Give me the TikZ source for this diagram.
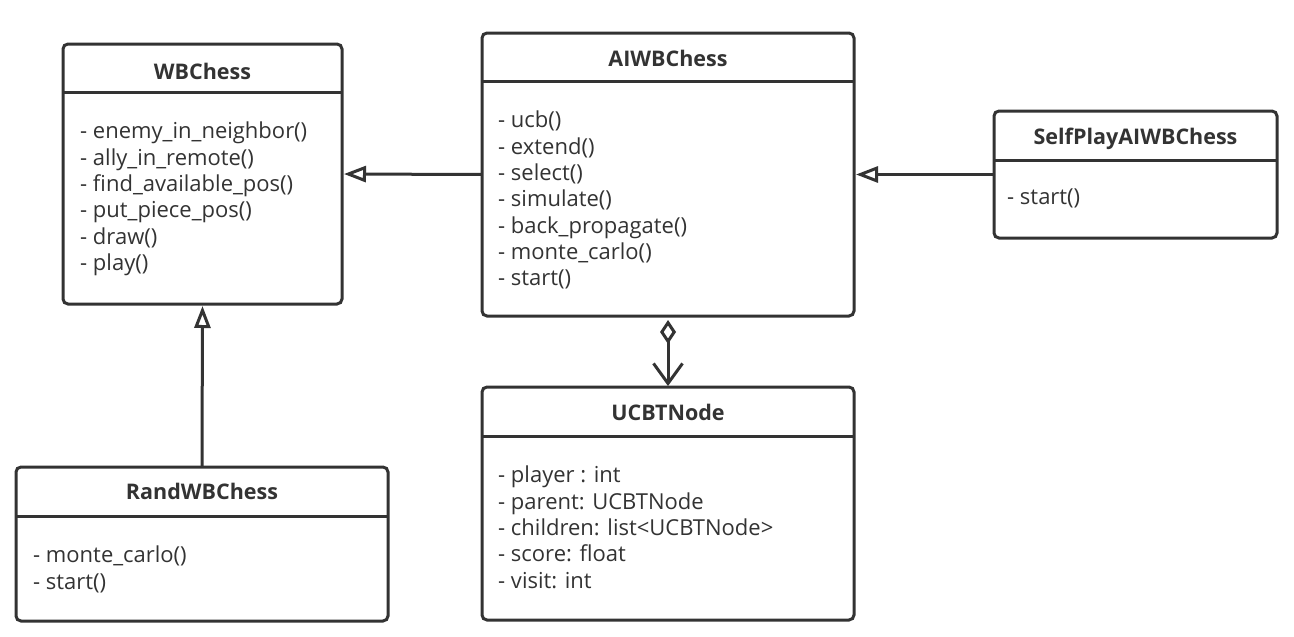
\documentclass[tikz,border=0pt]{standalone}
\usepackage{fontspec}
\setmainfont{Open Sans}
\usetikzlibrary{arrows.meta}
\definecolor{ink}{HTML}{333333}
\begin{document}
\begin{tikzpicture}[x=1pt,y=-1pt,
  classbox/.style={draw=ink, line width=3pt, rounded corners=5pt, fill=white, inner sep=0pt, outer sep=0pt},
  clstitle/.style={font=\fontsize{21.5}{25}\selectfont\bfseries, text=ink, text height=15.4pt, text depth=0pt, inner sep=0pt},
  members/.style={font=\fontsize{22}{26.3}\selectfont, text=ink, align=left, anchor=north west, inner sep=0pt},
  divider/.style={draw=ink, line width=3pt},
  link/.style={draw=ink, line width=3pt},
  inherit/.style={link, shorten >=2pt, -{Triangle[open, length=22pt, width=16pt, line width=3pt]}},
  aggr/.style={link, shorten <=4pt, shorten >=1pt, {Diamond[open, length=24pt, width=16pt, line width=3pt]}-{Straight Barb[length=20pt, width=29pt, line width=3pt]}}
]
\useasboundingbox[fill=white] (0,0) rectangle (1294,637);

% boxes
\node[classbox, minimum width=279pt, minimum height=260pt] (wb) at (202.5,174) {};
\node[classbox, minimum width=372pt, minimum height=283pt] (ai) at (668,174.5) {};
\node[classbox, minimum width=283pt, minimum height=127pt] (self) at (1135.5,174.5) {};
\node[classbox, minimum width=372pt, minimum height=154pt] (rand) at (202,544) {};
\node[classbox, minimum width=372pt, minimum height=233pt] (ucbt) at (668,503.5) {};

% dividers
\draw[divider] (wb.north west) ++(0,48) -- ++(279,0);
\draw[divider] (ai.north west) ++(0,48) -- ++(372,0);
\draw[divider] (self.north west) ++(0,49) -- ++(283,0);
\draw[divider] (rand.north west) ++(0,49) -- ++(372,0);
\draw[divider] (ucbt.north west) ++(0,49) -- ++(372,0);

% titles
\node[clstitle] (wbT) at (202.5,72) {WBChess};
\node[clstitle] (aiT) at (668,58.5) {AIWBChess};
\node[clstitle] (selfT) at (1135.5,137) {SelfPlayAIWBChess};
\node[clstitle] (randT) at (202,492) {RandWBChess};
\node[clstitle] (ucbtT) at (668,413) {UCBTNode};

% members
\node[members] (wbM) at (80,122) {- enemy\_in\_neighbor()\\- ally\_in\_remote()\\- find\_available\_pos()\\- put\_piece\_pos()\\- draw()\\- play()};
\node[members] (aiM) at (498,111) {- ucb()\\- extend()\\- select()\\- simulate()\\- back\_propagate()\\- monte\_carlo()\\- start()};
\node[members] (selfM) at (1007,189) {- start()};
\node[members] (randM) at (33,546) {- monte\_carlo()\\- start()};
\node[members] (ucbtM) at (498,466) {- player : int\\- parent: UCBTNode\\- children: list<UCBTNode>\\- score: float\\- visit: int};

% connectors
\draw[inherit] (ai.west) -- (wb.east);
\draw[inherit] (self.west) -- (ai.east);
\draw[inherit] (rand.north) -- (wb.south);
\draw[aggr] (ai.south) -- (ucbt.north);
\end{tikzpicture}
\end{document}
